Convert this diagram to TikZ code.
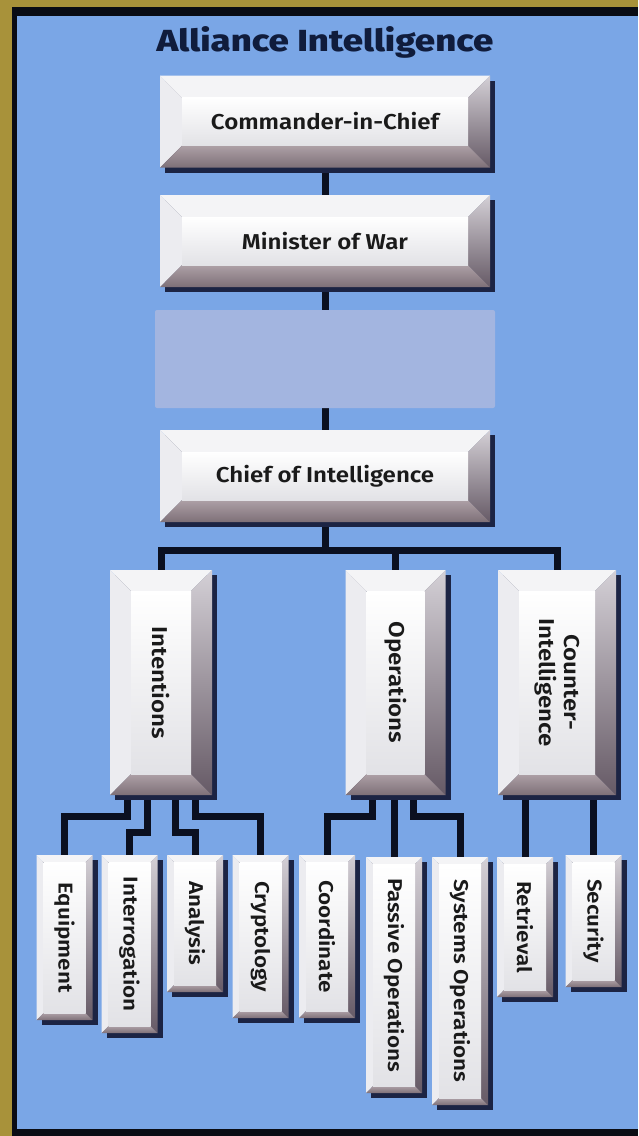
\documentclass[tikz,border=0pt]{standalone}
\usepackage{fontspec}
\usepackage{graphicx}
\setmainfont{Fira Sans}
\newfontfamily\boxfont{Fira Sans SemiBold}[FakeStretch=1.12]
\newfontfamily\headfont{Fira Sans ExtraBold}[FakeStretch=1.2]
\usetikzlibrary{calc}

\definecolor{goldc}{HTML}{A8923A}
\definecolor{edgec}{HTML}{0A0C14}
\definecolor{bluec}{HTML}{7AA6E6}
\definecolor{blankc}{HTML}{A3B5E0}
\definecolor{linkc}{HTML}{0B1020}
\definecolor{titlec}{HTML}{101C3C}
\definecolor{txtc}{HTML}{1A1A1A}
\definecolor{shadowc}{HTML}{1C2444}
\definecolor{bevtopc}{HTML}{F4F4F6}
\definecolor{bevleftc}{HTML}{ECECF0}
\definecolor{bevrtop}{HTML}{D4D0D6}
\definecolor{bevrbot}{HTML}{665A66}
\definecolor{bevbtop}{HTML}{ADA0A6}
\definecolor{bevbbot}{HTML}{7E7078}
\definecolor{facebot}{HTML}{E2E2E6}

\pgfdeclarelayer{backdrop}
\pgfdeclarelayer{links}
\pgfdeclarelayer{boxes}
\pgfsetlayers{backdrop,links,boxes,main}

\tikzset{
  conn/.style={draw=linkc, line width=7pt, line join=miter},
  bevtop/.style={fill=bevtopc},
  bevleft/.style={fill=bevleftc},
  bevright/.style={top color=bevrtop, bottom color=bevrbot},
  bevbottom/.style={top color=bevbtop, bottom color=bevbbot},
  bevface/.style={top color=white, bottom color=facebot},
  plate/.style={rectangle, inner sep=0pt, outer sep=0pt, align=center, text=txtc},
  hbox/.style={plate, minimum width=330pt, minimum height=92pt,
    font={\boxfont\fontsize{21.5pt}{25pt}\selectfont}},
  vbox/.style={plate, anchor=north, minimum height=225pt,
    font={\boxfont\fontsize{21.5pt}{25pt}\selectfont}},
  leaf/.style={plate, anchor=north, minimum width=56pt,
    font={\boxfont\fontsize{20pt}{23pt}\selectfont}},
  blank/.style={rectangle, fill=blankc, inner sep=0pt, outer sep=0pt,
    minimum width=340pt, minimum height=98pt, rounded corners=2pt},
  heading/.style={inner sep=0pt, text=titlec,
    font={\headfont\fontsize{30.5pt}{34pt}\selectfont}}
}

% bevelled plate behind a node: #1 node name, #2 bevel width in pt
\newcommand{\bevel}[2]{%
  \begin{pgfonlayer}{boxes}
    \fill[shadowc] ([shift={(5pt,-5pt)}]#1.north west) rectangle ([shift={(5pt,-5pt)}]#1.south east);
    \coordinate (#1-A) at (#1.north west);
    \coordinate (#1-B) at (#1.north east);
    \coordinate (#1-C) at (#1.south east);
    \coordinate (#1-D) at (#1.south west);
    \coordinate (#1-a) at ([shift={(#2pt,-#2pt)}]#1.north west);
    \coordinate (#1-b) at ([shift={(-#2pt,-#2pt)}]#1.north east);
    \coordinate (#1-c) at ([shift={(-#2pt,#2pt)}]#1.south east);
    \coordinate (#1-d) at ([shift={(#2pt,#2pt)}]#1.south west);
    \fill[bevtop] (#1-A) -- (#1-B) -- (#1-b) -- (#1-a) -- cycle;
    \fill[bevleft] (#1-A) -- (#1-a) -- (#1-d) -- (#1-D) -- cycle;
    \shade[bevright] (#1-B) -- (#1-C) -- (#1-c) -- (#1-b) -- cycle;
    \shade[bevbottom] (#1-D) -- (#1-d) -- (#1-c) -- (#1-C) -- cycle;
    \shade[bevface] (#1-a) rectangle (#1-c);
  \end{pgfonlayer}}

\begin{document}
\begin{tikzpicture}[x=1pt, y=-1pt]
\useasboundingbox (0,0) rectangle (638,1136);

% frame and backdrop
\begin{pgfonlayer}{backdrop}
  \fill[goldc] (0,0) rectangle (638,1136);
  \fill[edgec] (12,7) rectangle (638,1136);
  \fill[bluec] (17,16) rectangle (638,1129);
\end{pgfonlayer}

\node[heading] (ttl) at (325,42) {Alliance Intelligence};

% chain of command
\node[hbox] (cic) at (325,121.5) {Commander-in-Chief};
\node[hbox] (mow) at (325,241) {Minister of War};
\node[blank] (blk) at (325,359) {};
\node[hbox] (coi) at (325,476) {Chief of Intelligence};
\bevel{cic}{22}
\bevel{mow}{22}
\bevel{coi}{22}

% divisions
\node[vbox, minimum width=102pt] (int) at (161,570) {\rotatebox{-90}{Intentions}};
\node[vbox, minimum width=100pt] (ops) at (395.5,570) {\rotatebox{-90}{Operations}};
\node[vbox, minimum width=118pt] (cin) at (557,570)
  {\rotatebox{-90}{\begin{tabular}{@{}c@{}}Counter-\\Intelligence\end{tabular}}};
\bevel{int}{21}
\bevel{ops}{21}
\bevel{cin}{21}

% sections
\node[leaf, minimum height=165pt] (eqp) at (64.5,855) {\rotatebox{-90}{Equipment}};
\node[leaf, minimum height=178pt] (itg) at (129.5,855) {\rotatebox{-90}{Interrogation}};
\node[leaf, minimum height=137pt] (ana) at (195,855) {\rotatebox{-90}{Analysis}};
\node[leaf, minimum height=163pt] (cry) at (260.5,855) {\rotatebox{-90}{Cryptology}};
\node[leaf, minimum height=163pt] (coo) at (327,855) {\rotatebox{-90}{Coordinate}};
\node[leaf, minimum height=236pt] (pas) at (394,857) {\rotatebox{-90}{Passive Operations}};
\node[leaf, minimum height=248pt] (sys) at (460,857) {\rotatebox{-90}{Systems Operations}};
\node[leaf, minimum height=140pt] (ret) at (525,857) {\rotatebox{-90}{Retrieval}};
\node[leaf, minimum height=132pt] (sec) at (593.5,855) {\rotatebox{-90}{Security}};
\foreach \n in {eqp,itg,ana,cry,coo,pas,sys,ret,sec} {\bevel{\n}{7}}

% connectors
\begin{pgfonlayer}{links}
  \draw[conn] (cic.south) -- (mow.north);
  \draw[conn] (mow.south) -- (blk.north);
  \draw[conn] (blk.south) -- (coi.north);
  \coordinate (bus) at ($(coi.south)+(0,28)$);
  \draw[conn] (coi.south) -- (bus);
  \draw[conn] (int.north) |- (bus) -| (cin.north);
  \draw[conn] (bus) -| (ops.north);

  \draw[conn] ([xshift=-34pt]int.south) -- ++(0,21) -| (eqp.north);
  \draw[conn] ([xshift=-14pt]int.south) -- ++(0,37) -| (itg.north);
  \draw[conn] ([xshift=14pt]int.south) -- ++(0,37) -| (ana.north);
  \draw[conn] ([xshift=34pt]int.south) -- ++(0,21) -| (cry.north);

  \draw[conn] ([xshift=-23pt]ops.south) -- ++(0,21) -| (coo.north);
  \draw[conn] (ops.south -| pas.north) -- (pas.north);
  \draw[conn] ([xshift=18pt]ops.south) -- ++(0,21) -| (sys.north);

  \draw[conn] (cin.south -| ret.north) -- (ret.north);
  \draw[conn] (cin.south -| sec.north) -- (sec.north);
\end{pgfonlayer}
\end{tikzpicture}
\end{document}
